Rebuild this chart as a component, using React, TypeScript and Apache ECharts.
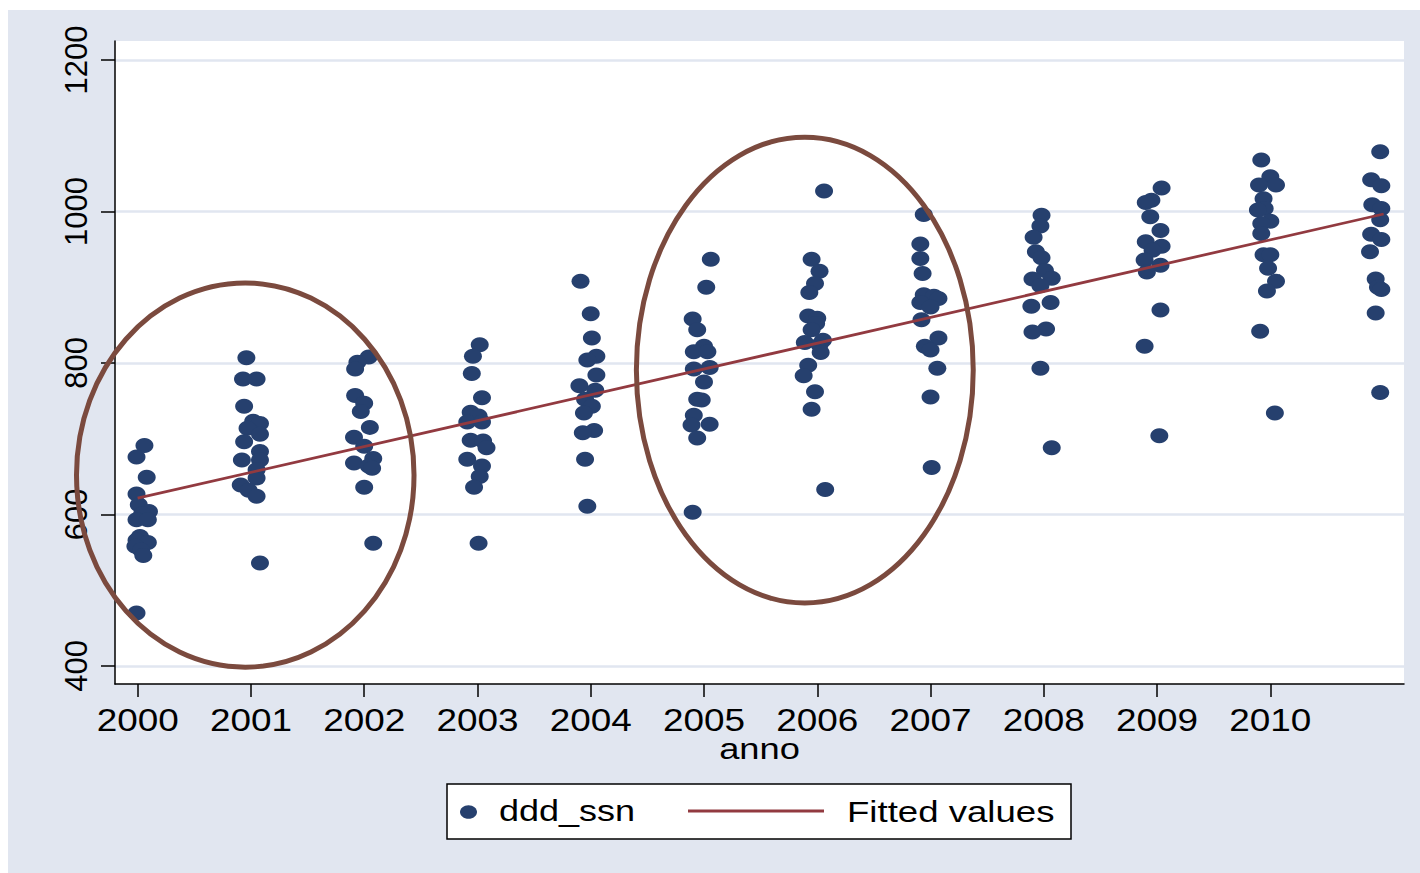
import React, { useEffect, useRef } from "react";
import * as echarts from "echarts";

// Years on the x axis (2011 has points but no tick label)
const xTickYears = [2000, 2001, 2002, 2003, 2004, 2005, 2006, 2007, 2008, 2009, 2010];
const yTicks = [400, 600, 800, 1000, 1200];

// ddd_ssn by anno (x carries the small horizontal jitter of each marker)
const ddd2000: [number, number][] = [
  [2000.06, 691], [1999.99, 676], [2000.08, 649], [1999.99, 627], [2000.01, 613], [2000.1, 604],
  [2000.04, 601], [1999.99, 593], [2000.09, 593], [2000.02, 571], [1999.99, 566], [2000.09, 563],
  [1999.98, 558], [2000.03, 553], [2000.05, 546], [1999.99, 470],
];
const ddd2001: [number, number][] = [
  [2000.96, 807], [2000.93, 779], [2001.05, 779], [2000.94, 743], [2001.02, 723], [2001.08, 720],
  [2000.97, 714], [2001.08, 706], [2000.94, 696], [2001.08, 683], [2000.92, 672], [2001.08, 672],
  [2001.05, 659], [2001.05, 648], [2000.91, 639], [2000.98, 632], [2001.05, 624], [2001.08, 536],
];
const ddd2002: [number, number][] = [
  [2002.04, 808], [2001.94, 801], [2001.92, 792], [2001.92, 757], [2002.0, 747], [2001.97, 736],
  [2002.05, 715], [2001.91, 702], [2002.0, 690], [2002.08, 674], [2001.91, 668], [2002.04, 664],
  [2002.07, 661], [2002.0, 636], [2002.08, 562],
];
const ddd2003: [number, number][] = [
  [2003.02, 824], [2002.96, 809], [2002.95, 786], [2003.04, 754], [2002.94, 735], [2003.01, 730],
  [2002.91, 722], [2003.04, 722], [2002.94, 698], [2003.05, 697], [2003.08, 688], [2002.91, 673],
  [2003.04, 664], [2003.02, 650], [2002.97, 636], [2003.01, 562],
];
const ddd2004: [number, number][] = [
  [2003.91, 908], [2004.0, 865], [2004.01, 833], [2004.05, 809], [2003.97, 804], [2004.05, 784],
  [2003.9, 770], [2004.04, 764], [2003.95, 752], [2004.01, 743], [2003.94, 734], [2004.03, 711],
  [2003.93, 708], [2003.95, 673], [2003.97, 611],
];
const ddd2005: [number, number][] = [
  [2005.06, 937], [2005.02, 900], [2004.9, 858], [2004.94, 844], [2005.0, 822], [2004.91, 815],
  [2005.03, 815], [2005.05, 794], [2004.91, 792], [2005.0, 775], [2004.94, 752], [2004.98, 751],
  [2004.91, 731], [2004.89, 718], [2005.05, 719], [2004.94, 701], [2004.9, 603],
];
const ddd2006: [number, number][] = [
  [2006.06, 1027], [2005.95, 937], [2006.02, 921], [2005.98, 905], [2005.93, 893], [2005.92, 862],
  [2006.0, 859], [2005.99, 852], [2005.95, 844], [2006.05, 830], [2005.89, 827], [2006.02, 824],
  [2006.03, 814], [2005.92, 797], [2005.88, 783], [2005.98, 762], [2005.95, 739], [2006.07, 633],
];
const ddd2007: [number, number][] = [
  [2006.94, 996], [2006.91, 957], [2006.91, 938], [2006.93, 918], [2006.94, 890], [2007.03, 888],
  [2006.91, 880], [2007.07, 885], [2007.0, 874], [2006.92, 857], [2007.07, 833], [2006.95, 822],
  [2007.0, 817], [2007.06, 793], [2007.0, 755], [2007.01, 662],
];
const ddd2008: [number, number][] = [
  [2007.98, 995], [2007.97, 981], [2007.91, 966], [2007.93, 947], [2007.98, 939], [2008.01, 922],
  [2008.07, 912], [2007.9, 911], [2007.97, 902], [2008.06, 880], [2007.89, 875], [2008.02, 845],
  [2007.9, 841], [2007.97, 793], [2008.07, 688],
];
const ddd2009: [number, number][] = [
  [2009.04, 1031], [2008.95, 1015], [2008.9, 1012], [2008.94, 993], [2009.03, 975], [2008.9, 960],
  [2009.04, 954], [2008.96, 949], [2008.89, 936], [2009.03, 929], [2008.91, 920], [2009.03, 870],
  [2008.89, 822], [2009.02, 704],
];
const ddd2010: [number, number][] = [
  [2009.92, 1068], [2010.0, 1046], [2010.05, 1035], [2009.9, 1035], [2009.94, 1017], [2009.95, 1004],
  [2009.89, 1002], [2010.0, 987], [2009.92, 984], [2009.92, 971], [2009.94, 943], [2010.0, 943],
  [2009.98, 925], [2010.05, 908], [2009.97, 895], [2009.91, 842], [2010.04, 734],
];
const ddd2011: [number, number][] = [
  [2010.97, 1079], [2010.89, 1042], [2010.98, 1034], [2010.9, 1009], [2010.98, 1004], [2010.97, 989],
  [2010.89, 970], [2010.98, 963], [2010.88, 947], [2010.93, 911], [2010.95, 900], [2010.98, 897],
  [2010.93, 866], [2010.97, 761],
];

// Linear fit endpoints (anno, fitted ddd_ssn)
const fittedValues: [number, number][] = [
  [2000, 621.5],
  [2011, 996.7],
];

// Highlight rings: centre anno, centre value, half-width (years), half-height (ddd)
const highlightRings: [number, number, number, number][] = [
  [2000.95, 652, 1.49, 253.6],
  [2005.89, 790.6, 1.487, 307.4],
];

const NAVY = "#26406E";
const MAROON = "#923A40";
const BROWN = "#7B4A3E";
const BG = "#E1E6F0";
const SANS = "'Liberation Sans', Arial, Helvetica, sans-serif";

export default function App() {
  const ref = useRef<HTMLDivElement>(null);

  useEffect(() => {
    if (!ref.current) return;
    const chart = echarts.init(ref.current, null, { renderer: "svg" });

    const points = [
      ...ddd2000, ...ddd2001, ...ddd2002, ...ddd2003, ...ddd2004, ...ddd2005,
      ...ddd2006, ...ddd2007, ...ddd2008, ...ddd2009, ...ddd2010, ...ddd2011,
    ];

    chart.setOption({
      animation: false,
      backgroundColor: BG,
      textStyle: { fontFamily: SANS },
      grid: {
        left: 107,
        top: 31,
        right: 16,
        bottom: 189,
        show: true,
        backgroundColor: "#ffffff",
        borderWidth: 0,
      },
      xAxis: {
        type: "value",
        min: 1999.8,
        max: 2011.18,
        axisLine: { show: true, onZero: false, lineStyle: { color: "#000", width: 1.5 } },
        axisTick: { show: true, length: 13, customValues: xTickYears, lineStyle: { color: "#000", width: 1.5 } },
        axisLabel: { show: false },
        splitLine: { show: false },
      },
      yAxis: {
        type: "value",
        min: 376.2,
        max: 1225.1,
        axisLine: { show: true, onZero: false, lineStyle: { color: "#000", width: 1.5 } },
        axisTick: { show: true, length: 14, customValues: yTicks, lineStyle: { color: "#000", width: 1.5 } },
        axisLabel: {
          show: true,
          customValues: yTicks,
          formatter: (v: number) => String(v),
          rotate: 90,
          margin: 23,
          fontSize: 31,
          fontFamily: SANS,
          color: "#000",
        },
        splitLine: { show: true, lineStyle: { color: BG, width: 2.5 } },
      },
      series: [
        {
          name: "ddd_ssn",
          type: "scatter",
          data: points,
          symbol: "circle",
          symbolSize: [18, 15],
          itemStyle: { color: NAVY, opacity: 1 },
          z: 2,
        },
        {
          name: "Fitted values",
          type: "line",
          data: fittedValues,
          showSymbol: false,
          symbol: "none",
          lineStyle: { color: MAROON, width: 2.8 },
          z: 3,
        },
        {
          type: "custom",
          data: highlightRings,
          clip: false,
          encode: { x: 0, y: 1 },
          z: 4,
          renderItem: (_params: any, api: any) => {
            const c = api.coord([api.value(0), api.value(1)]);
            const s = api.size([api.value(2), api.value(3)], [api.value(0), api.value(1)]);
            return {
              type: "ellipse",
              shape: { cx: c[0], cy: c[1], rx: s[0], ry: s[1] },
              style: { fill: "none", stroke: BROWN, lineWidth: 5 },
            };
          },
        },
      ],
    });

    // Tick labels and titles use slightly widened text
    const labelY = 710.3;
    const xLabels = xTickYears.map((yr) => ({
      type: "text",
      x: chart.convertToPixel({ xAxisIndex: 0 }, yr) as number,
      y: labelY,
      scaleX: 1.19,
      style: {
        text: String(yr),
        fontSize: 31,
        fontFamily: SANS,
        fill: "#000",
        align: "center",
        verticalAlign: "middle",
      },
    }));
    const left = chart.convertToPixel({ xAxisIndex: 0 }, 1999.8) as number;
    const right = chart.convertToPixel({ xAxisIndex: 0 }, 2011.18) as number;

    chart.setOption({
      graphic: [
        ...xLabels,
        {
          type: "text",
          x: (left + right) / 2,
          y: 738.9,
          scaleX: 1.21,
          style: { text: "anno", fontSize: 30, fontFamily: SANS, fill: "#000", align: "center", verticalAlign: "middle" },
        },
        {
          type: "group",
          children: [
            {
              type: "rect",
              shape: { x: 439, y: 774, width: 624, height: 55 },
              style: { fill: "#ffffff", stroke: "#000", lineWidth: 1.5 },
            },
            {
              type: "ellipse",
              shape: { cx: 460.5, cy: 802, rx: 8.5, ry: 6.8 },
              style: { fill: NAVY },
            },
            {
              type: "text",
              x: 491,
              y: 800.8,
              scaleX: 1.2,
              style: { text: "ddd_ssn", fontSize: 30, fontFamily: SANS, fill: "#000", align: "left", verticalAlign: "middle" },
            },
            {
              type: "line",
              shape: { x1: 680, y1: 801, x2: 816, y2: 801 },
              style: { stroke: MAROON, lineWidth: 3 },
            },
            {
              type: "text",
              x: 839,
              y: 801.3,
              scaleX: 1.22,
              style: { text: "Fitted values", fontSize: 30, fontFamily: SANS, fill: "#000", align: "left", verticalAlign: "middle" },
            },
          ],
        },
      ],
    });

    return () => chart.dispose();
  }, []);

  return (
    <div
      ref={ref}
      style={{ position: "fixed", left: 8, top: 10, width: 1412, height: 863 }}
    />
  );
}
